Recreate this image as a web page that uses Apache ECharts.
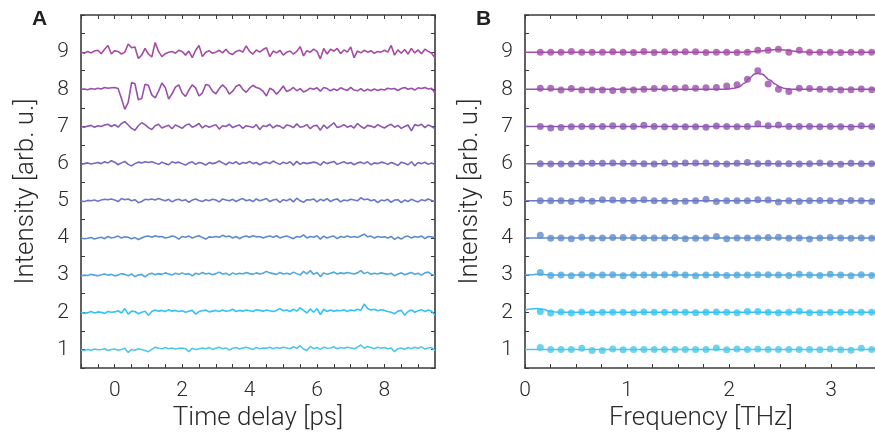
<!DOCTYPE html>
<html>
<head>
<meta charset="utf-8">
<script src="https://cdn.jsdelivr.net/npm/echarts@6/dist/echarts.min.js"></script>
<style>
html,body{margin:0;padding:0;background:#fff;}
#chart{width:875px;height:435px;}
</style>
</head>
<body>
<div id="chart"></div>
<script>
// ---------- DATA ----------
const offsets = [1, 2, 3, 4, 5, 6, 7, 8, 9];
const traceColors = ['#4ec8e9', '#36c3f3', '#4fa8df', '#5f8bcd', '#6b79c5', '#7867bb', '#8a58b3', '#9a4fab', '#a64ba5'];

// Panel A: time delay axis (ps)
const delayPs = [-1.0,-0.9,-0.8,-0.7,-0.6,-0.5,-0.4,-0.3,-0.2,-0.1,
  0.0,0.1,0.2,0.3,0.4,0.5,0.6,0.7,0.8,0.9,
  1.0,1.1,1.2,1.3,1.4,1.5,1.6,1.7,1.8,1.9,
  2.0,2.1,2.2,2.3,2.4,2.5,2.6,2.7,2.8,2.9,
  3.0,3.1,3.2,3.3,3.4,3.5,3.6,3.7,3.8,3.9,
  4.0,4.1,4.2,4.3,4.4,4.5,4.6,4.7,4.8,4.9,
  5.0,5.1,5.2,5.3,5.4,5.5,5.6,5.7,5.8,5.9,
  6.0,6.1,6.2,6.3,6.4,6.5,6.6,6.7,6.8,6.9,
  7.0,7.1,7.2,7.3,7.4,7.5,7.6,7.7,7.8,7.9,
  8.0,8.1,8.2,8.3,8.4,8.5,8.6,8.7,8.8,8.9,
  9.0,9.1,9.2,9.3,9.4,9.5];

// Panel A: time-domain signals (before vertical offset)
const time1 = [-0.02,-0.03,0.00,-0.02,0.01,-0.01,0.00,0.02,-0.03,0.00,
  0.01,-0.02,0.00,0.03,-0.08,0.00,-0.02,0.02,0.00,-0.03,
  -0.06,0.00,0.06,0.03,0.02,0.05,0.02,0.04,0.01,0.03,
  0.04,0.02,-0.06,0.03,0.00,0.02,0.04,0.02,0.05,0.00,
  0.03,0.06,0.02,0.04,-0.02,0.03,0.05,0.01,0.04,0.06,
  0.03,0.00,0.05,0.02,0.04,0.03,0.06,0.02,0.05,0.03,
  0.06,0.04,0.02,0.07,0.03,0.10,0.01,-0.03,0.08,0.02,
  0.05,0.00,0.06,0.03,0.04,0.07,0.02,0.05,0.03,0.06,
  0.04,0.02,0.06,0.12,0.03,0.08,0.05,0.02,0.06,0.03,
  0.05,0.02,0.04,-0.06,0.02,0.04,0.00,0.05,0.02,0.06,
  0.03,0.07,0.01,0.04,0.05,-0.03];
const time2 = [0.00,-0.03,-0.01,0.02,-0.02,0.01,0.00,-0.03,0.02,0.00,
  0.01,0.04,-0.02,0.10,-0.05,0.03,0.02,-0.04,0.00,0.03,
  -0.08,0.02,0.06,0.03,0.05,0.02,0.07,0.03,0.05,0.02,
  0.04,0.00,0.03,0.05,-0.05,0.02,0.04,0.06,0.01,0.03,
  0.05,0.02,0.06,0.03,0.04,0.08,0.02,0.05,0.03,0.06,
  0.04,0.02,0.07,0.05,0.03,0.06,0.04,0.02,0.05,0.10,
  0.04,0.06,0.02,0.08,0.03,0.12,0.05,-0.02,0.09,0.00,
  0.10,-0.06,0.08,0.02,0.06,0.03,0.05,0.04,0.07,0.02,
  0.06,0.04,0.08,0.05,0.22,0.10,0.06,0.08,0.04,0.07,
  0.05,0.02,0.00,-0.04,0.03,0.05,-0.08,0.02,0.06,0.00,
  0.04,0.07,0.02,0.06,0.03,-0.08];
const time3 = [-0.02,0.00,-0.01,0.02,0.00,-0.02,0.01,0.03,0.00,0.02,
  -0.02,0.00,0.04,0.02,-0.02,0.03,-0.04,0.00,0.02,-0.05,
  0.02,0.05,0.01,0.04,0.02,0.06,0.03,0.00,0.05,0.02,
  0.06,0.02,0.04,-0.02,0.05,0.02,0.07,0.03,0.05,0.01,
  0.04,0.08,0.03,0.05,0.00,0.06,0.02,0.05,0.03,0.07,
  0.04,0.02,0.06,0.03,0.05,0.10,0.06,0.04,0.02,0.07,
  0.03,0.05,0.02,0.08,0.04,0.00,0.10,0.03,0.12,0.02,
  0.07,-0.04,0.06,0.02,0.05,0.08,0.03,0.06,0.04,0.07,
  0.05,0.03,0.06,0.12,0.04,0.08,0.02,0.05,0.03,0.06,
  0.04,0.02,0.05,-0.02,0.03,0.06,0.01,0.04,0.07,0.02,
  0.05,0.00,0.06,0.08,0.02,-0.02];
const time4 = [0.00,-0.02,-0.01,0.01,-0.03,0.00,0.02,-0.02,0.04,0.00,
  0.02,0.05,0.00,0.03,0.02,-0.02,0.01,-0.04,0.00,0.04,
  0.05,0.02,0.06,0.03,0.04,0.00,0.02,0.05,0.03,-0.03,
  0.04,0.02,0.05,0.00,0.03,0.06,0.01,-0.03,0.03,0.02,
  0.04,0.02,0.07,0.03,0.05,0.00,0.04,-0.02,0.03,0.05,
  0.02,0.06,0.03,0.04,0.00,0.03,0.05,0.02,0.06,0.00,
  0.03,0.05,0.02,-0.02,0.04,0.02,0.08,0.00,0.04,0.02,
  0.06,-0.03,0.05,0.00,0.03,0.05,-0.02,0.04,0.02,0.05,
  0.02,0.04,0.01,0.06,0.10,0.03,0.05,0.00,0.04,0.02,
  0.03,0.00,0.04,-0.04,0.02,-0.03,0.03,0.05,0.00,0.04,
  0.02,0.05,-0.02,0.04,0.03,0.01];
const time5 = [-0.01,-0.02,0.01,0.00,0.02,-0.01,0.02,0.04,0.03,0.05,
  0.02,-0.02,0.06,0.03,0.05,0.00,0.03,-0.05,-0.02,0.04,
  0.03,0.05,0.02,0.06,0.03,0.00,0.04,-0.03,0.02,0.04,
  0.00,0.03,-0.04,0.02,0.05,0.01,-0.02,0.03,0.00,0.04,
  0.02,-0.03,0.05,0.02,0.00,0.04,-0.02,0.03,0.06,0.00,
  0.03,-0.02,0.05,0.00,0.03,0.06,-0.02,0.02,0.04,-0.04,
  0.03,0.00,0.05,-0.03,0.07,0.00,-0.04,0.03,0.02,0.05,
  -0.03,0.04,0.00,0.06,-0.02,0.03,0.05,-0.03,0.02,0.00,
  0.04,0.02,0.00,0.08,0.03,0.05,0.00,0.03,-0.05,0.02,
  0.00,0.04,-0.04,0.02,0.03,-0.05,0.02,-0.02,0.04,0.00,
  -0.03,0.03,0.00,0.05,0.01,-0.02];
const time6 = [-0.02,0.00,0.02,-0.01,0.01,0.03,0.00,0.05,0.02,0.08,
  0.04,-0.03,0.02,0.06,-0.02,-0.06,0.00,0.04,0.02,0.05,
  0.03,0.05,0.02,-0.02,0.04,0.00,-0.03,0.05,0.02,0.04,
  0.00,-0.04,0.02,0.05,-0.02,0.03,0.01,-0.04,0.03,0.00,
  0.02,0.07,0.02,-0.03,0.04,0.00,0.05,-0.02,0.03,0.01,
  0.06,0.00,0.03,-0.03,0.02,0.04,0.00,0.07,0.02,-0.02,
  0.04,0.00,0.05,-0.04,0.06,-0.02,0.03,0.00,0.02,0.04,
  0.02,-0.04,0.05,0.00,0.03,0.06,-0.02,0.02,0.05,0.00,
  0.03,-0.03,0.02,0.04,0.00,0.05,-0.03,0.02,0.00,0.04,
  0.02,-0.02,0.03,0.00,-0.05,0.04,0.01,-0.03,0.05,-0.06,
  0.03,0.00,0.04,-0.02,0.02,-0.03];
const time7 = [0.00,-0.02,0.01,0.03,-0.02,0.02,0.00,0.04,0.06,0.00,
  0.05,-0.02,0.08,0.13,0.04,-0.05,-0.10,0.02,0.10,0.05,
  -0.03,-0.08,0.02,0.06,-0.04,0.00,0.03,-0.06,0.04,0.00,
  -0.05,0.03,0.07,-0.02,0.02,0.08,-0.04,0.03,-0.02,0.01,
  0.05,-0.07,0.02,0.00,0.06,-0.03,0.01,0.04,-0.05,0.02,
  0.00,-0.03,0.05,-0.08,0.02,0.00,0.06,-0.04,0.03,0.01,
  -0.05,0.04,0.02,-0.03,0.07,-0.02,0.00,0.05,-0.06,0.02,
  0.03,-0.10,0.04,-0.05,0.02,0.10,-0.03,0.00,0.05,-0.02,
  0.02,-0.04,0.08,0.00,-0.05,0.03,0.01,-0.03,0.05,0.00,
  -0.04,0.02,0.06,-0.02,0.03,-0.05,0.00,0.04,-0.12,0.05,
  0.02,0.06,-0.03,0.04,0.00,-0.06];
const time8 = [0.00,0.01,-0.01,0.02,0.00,0.03,0.01,0.05,0.03,0.04,
  0.05,0.02,-0.25,-0.54,-0.35,0.18,0.15,-0.28,-0.25,0.14,
  0.10,-0.15,-0.23,-0.05,0.17,0.05,-0.26,-0.12,0.06,0.12,
  -0.10,-0.19,-0.02,0.12,0.04,-0.18,-0.10,0.13,0.10,-0.05,
  -0.12,0.02,0.12,0.03,-0.13,-0.05,0.08,0.12,0.00,-0.08,
  0.03,0.11,0.05,0.02,-0.05,-0.18,0.03,-0.02,-0.13,-0.03,
  0.09,-0.06,-0.02,0.05,-0.04,0.02,-0.07,-0.03,0.03,0.00,
  0.04,-0.05,0.05,0.02,-0.04,0.01,-0.03,0.04,0.00,-0.03,
  0.05,-0.02,-0.04,0.02,-0.05,0.00,-0.04,0.01,-0.03,0.00,
  -0.02,0.03,0.01,0.02,-0.03,0.02,0.05,0.00,0.03,-0.02,
  0.04,0.02,0.05,0.01,0.03,-0.10];
const time9 = [0.00,-0.03,0.02,-0.02,0.03,0.05,-0.04,0.08,0.18,-0.05,
  0.04,0.02,-0.05,0.00,0.22,0.12,0.14,-0.17,-0.08,0.10,
  -0.05,-0.13,0.26,0.02,-0.12,-0.04,0.00,0.02,-0.03,0.05,
  0.02,-0.08,0.03,-0.15,0.05,0.18,-0.12,0.00,0.04,-0.03,
  0.00,0.05,-0.02,0.08,-0.03,-0.06,0.02,0.05,0.00,0.17,
  0.02,-0.05,0.06,0.00,0.07,0.12,-0.12,0.03,-0.02,0.05,
  -0.08,0.00,0.03,-0.05,0.02,0.15,-0.10,0.04,0.00,0.08,
  0.02,-0.18,0.10,-0.05,0.08,0.03,0.10,-0.04,0.06,0.00,
  0.14,-0.15,0.03,-0.02,0.05,0.00,0.04,-0.03,0.02,0.00,
  0.05,0.00,0.18,-0.08,0.06,-0.03,0.07,-0.05,0.10,-0.02,
  0.06,-0.04,0.08,0.02,-0.03,-0.15];
const timeTraces = [time1, time2, time3, time4, time5, time6, time7, time8, time9];

// Panel B: frequency points (THz)
const freqTHz = [0.150,0.252,0.353,0.454,0.556,0.658,0.759,0.860,0.962,1.064,
  1.165,1.266,1.368,1.470,1.571,1.672,1.774,1.876,1.977,2.078,
  2.180,2.282,2.383,2.484,2.586,2.688,2.789,2.890,2.992,3.094,
  3.195,3.296,3.398];

// Panel B: spectral amplitudes (before vertical offset)
const spec1 = [0.05,0.00,0.00,0.00,0.03,-0.03,-0.03,0.01,-0.01,0.00,0.00,0.00,0.00,0.00,0.00,0.00,0.00,0.04,-0.01,0.01,0.00,0.01,0.00,0.00,0.00,0.00,0.00,-0.01,0.01,-0.01,-0.02,0.03,0.00];
const spec2 = [0.02,-0.02,0.01,-0.02,0.01,-0.01,0.00,0.00,0.00,-0.01,0.01,0.00,0.00,0.00,0.00,-0.01,0.00,0.01,0.00,-0.01,0.02,0.02,0.00,-0.01,0.00,0.03,-0.01,-0.01,0.00,0.00,0.00,0.00,0.00];
const spec3 = [0.07,-0.01,0.00,-0.02,0.01,-0.01,0.00,0.01,-0.02,0.00,0.00,0.00,0.01,0.02,0.00,-0.02,0.00,0.01,-0.01,0.00,0.00,0.01,0.01,0.00,-0.01,0.02,0.00,-0.01,0.02,0.00,-0.02,0.01,-0.01];
const spec4 = [0.07,-0.01,0.00,-0.02,0.02,-0.01,0.00,0.01,0.01,0.01,0.00,0.00,0.00,0.01,-0.02,-0.01,0.00,0.04,-0.02,0.00,0.00,0.00,0.01,0.02,-0.01,0.00,-0.03,0.00,0.01,0.00,-0.01,0.00,-0.01];
const spec5 = [0.00,0.00,0.00,-0.02,0.02,-0.01,0.03,0.02,0.01,0.01,0.03,0.00,0.00,-0.02,-0.01,0.00,0.04,-0.02,0.00,0.00,0.00,0.03,0.02,-0.03,0.00,-0.02,0.00,0.01,0.00,-0.02,0.01,0.00,-0.02];
const spec6 = [0.00,-0.01,-0.01,-0.01,0.01,0.01,0.01,0.02,0.01,0.01,0.00,-0.01,0.02,-0.01,0.02,0.02,0.02,0.00,-0.01,0.01,0.03,0.00,0.01,0.00,0.00,-0.01,0.00,0.02,0.00,-0.02,0.01,0.00,0.00];
const spec7 = [0.00,-0.04,-0.03,-0.01,0.00,0.00,0.00,0.02,0.00,0.00,0.03,0.00,-0.01,-0.01,-0.01,-0.01,-0.02,0.01,0.00,-0.01,0.00,0.07,0.02,0.04,0.00,0.00,0.00,-0.01,0.00,-0.01,-0.02,0.02,0.00];
const spec8 = [0.03,0.03,-0.02,0.02,-0.02,-0.02,-0.02,-0.03,-0.02,-0.02,0.00,0.02,0.03,0.02,0.04,0.03,0.04,0.05,0.09,0.12,0.27,0.50,0.14,0.00,-0.06,0.03,0.02,0.00,0.00,-0.02,-0.01,0.01,-0.01];
const spec9 = [0.00,0.00,0.00,0.02,0.00,0.00,0.00,0.01,0.00,-0.01,0.02,-0.01,0.01,0.00,0.01,0.01,-0.01,0.00,0.00,-0.01,0.00,0.05,0.05,0.08,0.00,0.05,0.00,0.00,0.00,-0.01,0.00,0.00,0.00];
const specTraces = [spec1, spec2, spec3, spec4, spec5, spec6, spec7, spec8, spec9];

// Panel B: fitted curves, [frequency THz, amplitude]
const fit1 = [[0,0],[3.45,0]];
const fit2 = [[0,0.06],[0.06,0.09],[0.12,0.10],[0.18,0.08],[0.24,0.03],[0.30,0.005],[0.36,0],[3.45,0]];
const fit3 = [[0,0],[0.06,0.01],[0.12,0.02],[0.18,0.015],[0.25,0.005],[0.32,0],[3.45,0]];
const fit4 = [[0,0],[3.45,0]];
const fit5 = [[0,0],[3.45,0]];
const fit6 = [[0,0],[3.45,0]];
const fit7 = [[0,0],[3.45,0]];
const fit8 = [[0,0],[1.9,0],[2.0,0.01],[2.05,0.03],[2.1,0.07],[2.15,0.16],[2.2,0.30],[2.25,0.41],[2.28,0.43],[2.32,0.41],[2.4,0.25],[2.45,0.14],[2.5,0.06],[2.55,0.02],[2.6,0],[3.45,0]];
const fit9 = [[0,0],[2.1,0],[2.2,0.01],[2.3,0.03],[2.4,0.06],[2.47,0.07],[2.55,0.06],[2.62,0.03],[2.7,0.01],[2.8,0],[3.45,0]];
const fitTraces = [fit1, fit2, fit3, fit4, fit5, fit6, fit7, fit8, fit9];

// ---------- CHART ----------
const FONT = 'Roboto';
const axisCol = '#3a3a3a';
const textCol = '#2a2a2a';

const chart = echarts.init(document.getElementById('chart'), null, {renderer: 'canvas'});

function yLabel(v) {
  return (Math.abs(v - Math.round(v)) < 1e-6 && v >= 1 && v <= 9) ? String(Math.round(v)) : '';
}
function baseAxis(extra) {
  return Object.assign({
    type: 'value',
    axisLine: {show: true, onZero: false, lineStyle: {color: axisCol, width: 1.6}},
    axisTick: {show: true, inside: true, length: 4, lineStyle: {color: axisCol, width: 1}},
    splitLine: {show: false},
    axisLabel: {show: false}
  }, extra);
}

const labelStyle = {color: textCol, fontFamily: FONT, fontWeight: 300, fontSize: 21};
const nameStyle = {color: textCol, fontFamily: FONT, fontWeight: 300, fontSize: 26};

const series = [];
timeTraces.forEach((tr, k) => {
  series.push({
    type: 'line', xAxisIndex: 0, yAxisIndex: 0, showSymbol: false, silent: true,
    lineStyle: {color: traceColors[k], width: 1.6}, animation: false,
    data: delayPs.map((t, i) => [t, offsets[k] + tr[i]])
  });
});
fitTraces.forEach((ft, k) => {
  series.push({
    type: 'line', xAxisIndex: 2, yAxisIndex: 2, showSymbol: false, silent: true,
    smooth: 0.35, smoothMonotone: 'x',
    lineStyle: {color: traceColors[k], width: 1.5}, animation: false,
    data: ft.map(p => [p[0], offsets[k] + p[1]])
  });
});
specTraces.forEach((sp, k) => {
  series.push({
    type: 'scatter', xAxisIndex: 2, yAxisIndex: 2, symbolSize: 7, silent: true,
    itemStyle: {color: traceColors[k]}, animation: false,
    data: freqTHz.map((f, i) => [f, offsets[k] + sp[i]])
  });
});

const option = {
  backgroundColor: '#fff',
  animation: false,
  title: [
    {text: 'A', left: 27, top: 4, textStyle: {fontFamily: 'Liberation Sans', fontWeight: 'bold', fontSize: 21, color: '#222'}},
    {text: 'B', left: 471, top: 4, textStyle: {fontFamily: 'Liberation Sans', fontWeight: 'bold', fontSize: 21, color: '#222'}}
  ],
  grid: [
    {left: 81, top: 15, width: 354, height: 353, containLabel: false, outerBoundsMode: 'none'},
    {left: 525, top: 15, width: 352, height: 353, containLabel: false, outerBoundsMode: 'none'}
  ],
  xAxis: [
    baseAxis({gridIndex: 0, position: 'bottom', min: -1, max: 9.5, interval: 0.5,
      name: 'Time delay [ps]', nameLocation: 'middle', nameGap: 33, nameTextStyle: nameStyle,
      axisLabel: Object.assign({show: true, margin: 12, showMaxLabel: false,
        formatter: v => (Math.abs(v - Math.round(v)) < 1e-6 && Math.round(v) % 2 === 0) ? String(Math.round(v)) : ''}, labelStyle)}),
    baseAxis({gridIndex: 0, position: 'top', min: -1, max: 9.5, interval: 0.5}),
    baseAxis({gridIndex: 1, position: 'bottom', min: 0, max: 3.45, interval: 0.25,
      name: 'Frequency [THz]', nameLocation: 'middle', nameGap: 33, nameTextStyle: nameStyle,
      axisLabel: Object.assign({show: true, margin: 12, showMaxLabel: false,
        formatter: v => (Math.abs(v - Math.round(v)) < 1e-6) ? String(Math.round(v)) : ''}, labelStyle)}),
    baseAxis({gridIndex: 1, position: 'top', min: 0, max: 3.45, interval: 0.25})
  ],
  yAxis: [
    baseAxis({gridIndex: 0, position: 'left', min: 0.5, max: 10, interval: 0.5,
      name: 'Intensity [arb. u.]', nameLocation: 'middle', nameGap: 42, nameTextStyle: nameStyle,
      axisLabel: Object.assign({show: true, margin: 12, formatter: yLabel}, labelStyle)}),
    baseAxis({gridIndex: 0, position: 'right', min: 0.5, max: 10, interval: 0.5}),
    baseAxis({gridIndex: 1, position: 'left', min: 0.5, max: 10, interval: 0.5,
      name: 'Intensity [arb. u.]', nameLocation: 'middle', nameGap: 42, nameTextStyle: nameStyle,
      axisLabel: Object.assign({show: true, margin: 12, formatter: yLabel}, labelStyle)})
  ],
  series: series
};
chart.setOption(option);
</script>
</body>
</html>
